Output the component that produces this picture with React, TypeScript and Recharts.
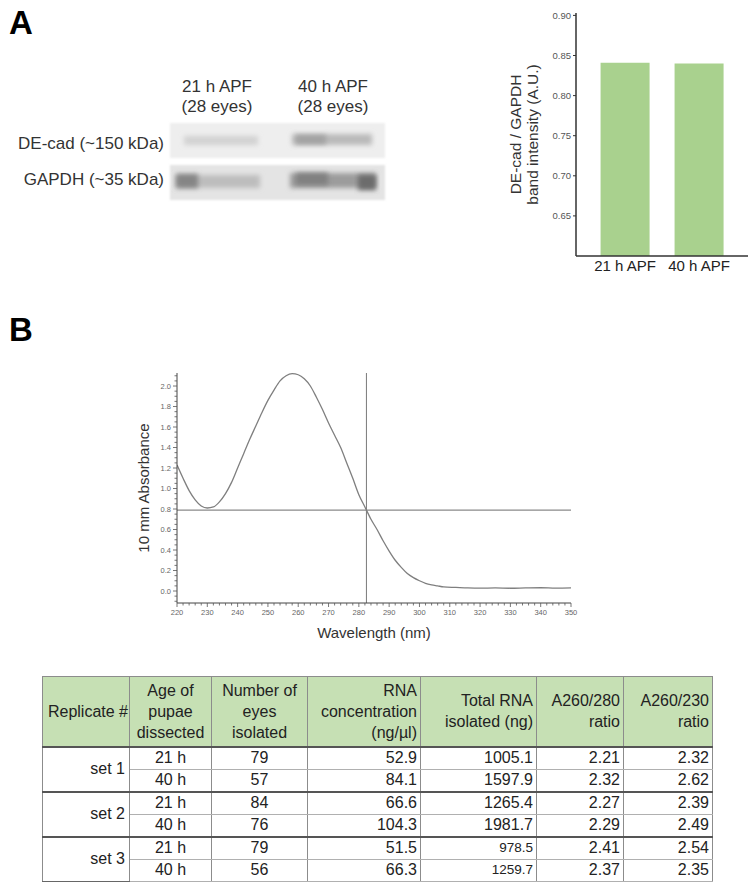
import React from 'react';
import { BarChart, Bar, XAxis, YAxis, LineChart, Line, ReferenceLine } from 'recharts';

// ---------- Panel A: western blot labels ----------
const blotLanes = ['21 h APF', '40 h APF'];
const blotLaneCounts = ['(28 eyes)', '(28 eyes)'];
const blotRows = ['DE-cad (~150 kDa)', 'GAPDH (~35 kDa)'];

// ---------- Panel A: bar chart ----------
const barCategories = ['21 h APF', '40 h APF'];
const barValues = [0.841, 0.84];
const barTicks = [0.65, 0.7, 0.75, 0.8, 0.85, 0.9];
const barYLabelLines = ['DE-cad / GAPDH', 'band intensity (A.U.)'];

// ---------- Panel B: absorbance spectrum ----------
const wavelengths = [
  220, 222, 224, 226, 228, 230, 232, 234, 236, 238, 240, 242, 244, 246, 248, 250,
  252, 254, 256, 258, 260, 262, 264, 266, 268, 270, 272, 274, 276, 278, 280, 282,
  284, 286, 288, 290, 292, 294, 296, 298, 300, 302, 304, 306, 308, 312, 316, 320,
  325, 330, 335, 340, 345, 350,
];
const absorbance = [
  1.23, 1.1, 0.98, 0.89, 0.83, 0.81, 0.82, 0.87, 0.95, 1.06, 1.2, 1.34, 1.48, 1.61, 1.74, 1.86,
  1.96, 2.05, 2.1, 2.12, 2.11, 2.07, 2.0, 1.89, 1.77, 1.64, 1.52, 1.4, 1.25, 1.1, 0.94, 0.82,
  0.7, 0.6, 0.49, 0.39, 0.3, 0.23, 0.17, 0.13, 0.1, 0.075, 0.06, 0.05, 0.04, 0.035, 0.03, 0.028,
  0.03, 0.027, 0.03, 0.032, 0.028, 0.03,
];
const cursorWavelength = 282.5;
const cursorAbsorbance = 0.79;
const absXMajorTicks = [220, 230, 240, 250, 260, 270, 280, 290, 300, 310, 320, 330, 340, 350];
const absYMajorTicks = [0, 0.2, 0.4, 0.6, 0.8, 1.0, 1.2, 1.4, 1.6, 1.8, 2.0];
const absXLabel = 'Wavelength (nm)';
const absYLabel = '10 mm Absorbance';

// ---------- Panel B: table ----------
const tableHeaders = [
  ['Replicate #'],
  ['Age of', 'pupae', 'dissected'],
  ['Number of', 'eyes', 'isolated'],
  ['RNA', 'concentration', '(ng/µl)'],
  ['Total RNA', 'isolated (ng)'],
  ['A260/280', 'ratio'],
  ['A260/230', 'ratio'],
];
const replicateSets = ['set 1', 'set 2', 'set 3'];
const pupaeAges = ['21 h', '40 h', '21 h', '40 h', '21 h', '40 h'];
const eyesIsolated = ['79', '57', '84', '76', '79', '56'];
const rnaConcentration = ['52.9', '84.1', '66.6', '104.3', '51.5', '66.3'];
const totalRna = ['1005.1', '1597.9', '1265.4', '1981.7', '978.5', '1259.7'];
const ratio260280 = ['2.21', '2.32', '2.27', '2.29', '2.41', '2.37'];
const ratio260230 = ['2.32', '2.62', '2.39', '2.49', '2.54', '2.35'];

const FONT = '"Liberation Sans", Arial, Helvetica, sans-serif';

const barData = barCategories.map((name, i) => ({ name, value: barValues[i] }));
const absData = wavelengths.map((wl, i) => ({ wl, a: absorbance[i] }));

const absXTicks: number[] = [];
for (let v = 220; v <= 350; v += 2) absXTicks.push(v);
const absYTicks: number[] = [];
for (let k = -2; k <= 42; k++) absYTicks.push(Math.round(k * 5) / 100);

const isMajorX = (v: number) => absXMajorTicks.includes(v);
const isMajorY = (v: number) => absYMajorTicks.some((m) => Math.abs(m - v) < 1e-6);

const AbsXTick = (props: any) => {
  const { x, y, payload } = props;
  const v = payload.value;
  const major = isMajorX(v);
  return (
    <g>
      <line x1={x} x2={x} y1={y} y2={y + (major ? 4 : 2.5)} stroke="#555" strokeWidth={0.8} />
      {major && (
        <text x={x} y={y + 12} textAnchor="middle" fontSize={7.5} fill="#666" fontFamily={FONT}>
          {v}
        </text>
      )}
    </g>
  );
};

const AbsYTick = (props: any) => {
  const { x, y, payload } = props;
  const v = payload.value;
  const major = isMajorY(v);
  return (
    <g>
      <line x1={x} x2={x - (major ? 4 : 2.5)} y1={y} y2={y} stroke="#555" strokeWidth={0.8} />
      {major && (
        <text x={x - 6} y={y + 2.6} textAnchor="end" fontSize={7.5} fill="#666" fontFamily={FONT}>
          {v.toFixed(1)}
        </text>
      )}
    </g>
  );
};

const AbsXLabel = (props: any) => {
  const vb = props.viewBox || { x: 47, y: 243, width: 394, height: 47 };
  return (
    <text x={vb.x + vb.width / 2} y={vb.y + 29} textAnchor="middle" dominantBaseline="central" fontSize={15} fill="#333" fontFamily={FONT}>
      {absXLabel}
    </text>
  );
};

const AbsYLabel = (props: any) => {
  const vb = props.viewBox || { x: 0, y: 13, width: 47, height: 230 };
  const cx = vb.x + 13;
  const cy = vb.y + vb.height / 2;
  return (
    <text x={cx} y={cy} textAnchor="middle" dominantBaseline="central" fontSize={15} fill="#333" fontFamily={FONT} transform={`rotate(-90, ${cx}, ${cy})`}>
      {absYLabel}
    </text>
  );
};

const BarYLabel = (props: any) => {
  const vb = props.viewBox || { x: 0, y: 13, width: 86, height: 243 };
  const cy = vb.y + vb.height / 2;
  const xs = [vb.x + 25, vb.x + 42];
  return (
    <g>
      {barYLabelLines.map((t, i) => (
        <text key={t} x={xs[i]} y={cy} textAnchor="middle" dominantBaseline="central" fontSize={15.5} fill="#333" fontFamily={FONT} transform={`rotate(-90, ${xs[i]}, ${cy})`}>
          {t}
        </text>
      ))}
    </g>
  );
};

const Blot = () => (
  <svg width={240} height={100} style={{ position: 'absolute', left: 160, top: 115 }}>
    <defs>
      <filter id="soft" x="-20%" y="-50%" width="140%" height="200%">
        <feGaussianBlur stdDeviation="1.2" />
      </filter>
      <filter id="band" x="-20%" y="-80%" width="140%" height="260%">
        <feGaussianBlur stdDeviation="2.6" />
      </filter>
    </defs>
    {/* DE-cad strip: y 123-158 -> local 8-43 */}
    <rect x={10} y={8} width={215} height={35} fill="#eeeeee" filter="url(#soft)" />
    <rect x={24} y={21} width={74} height={9} fill="#d2d2d2" filter="url(#band)" />
    <rect x={132} y={19} width={80} height={11} fill="#bababa" filter="url(#band)" />
    <rect x={136} y={20} width={30} height={9} fill="#a2a2a2" filter="url(#band)" />
    {/* GAPDH strip: y 165-200 -> local 50-85 */}
    <rect x={10} y={50} width={215} height={35} fill="#e4e4e4" filter="url(#soft)" />
    <rect x={16} y={60} width={84} height={13} fill="#bdbdbd" filter="url(#band)" />
    <rect x={16} y={59} width={22} height={14} fill="#858585" filter="url(#band)" />
    <rect x={130} y={58} width={86} height={15} fill="#9c9c9c" filter="url(#band)" />
    <rect x={136} y={58} width={32} height={12} fill="#808080" filter="url(#band)" />
    <rect x={198} y={60} width={18} height={15} fill="#6c6c6c" filter="url(#band)" />
  </svg>
);

const laneCenters = [217, 333];
const rowCenters = [144, 180];

const thBase: React.CSSProperties = {
  background: '#c6e0b4',
  border: '1px solid #8c8c8c',
  fontWeight: 'normal',
  padding: '0 3px',
  lineHeight: '21px',
  verticalAlign: 'middle',
  whiteSpace: 'nowrap',
};

const tdBase: React.CSSProperties = {
  borderLeft: '1px solid #8c8c8c',
  borderRight: '1px solid #8c8c8c',
  borderTop: '1px solid #b0b0b0',
  borderBottom: '1px solid #b0b0b0',
  padding: '0 3px',
  height: 21,
  lineHeight: '20px',
  whiteSpace: 'nowrap',
};

const headerAlign: ('center' | 'right')[] = ['right', 'center', 'center', 'right', 'right', 'right', 'right'];
const colWidths = [87, 82, 96, 113, 116, 87, 89];

const DataTable = () => (
  <table
    style={{
      position: 'absolute',
      left: 42,
      top: 676,
      width: 670,
      borderCollapse: 'collapse',
      fontFamily: FONT,
      fontSize: 16,
      color: '#222',
      tableLayout: 'fixed',
      border: '1px solid #666',
    }}
  >
    <colgroup>
      {colWidths.map((w, i) => (
        <col key={i} style={{ width: w }} />
      ))}
    </colgroup>
    <thead>
      <tr style={{ height: 70 }}>
        {tableHeaders.map((lines, i) => (
          <th
            key={i}
            style={{
              ...thBase,
              textAlign: headerAlign[i],
              borderBottom: '2px solid #555',
              ...(i === 0 ? { padding: '0 1px' } : {}),
            }}
          >
            {lines.map((l, j) => (
              <div key={j}>{l}</div>
            ))}
          </th>
        ))}
      </tr>
    </thead>
    <tbody>
      {pupaeAges.map((age, r) => {
        const first = r % 2 === 0;
        const topBorder = first && r > 0 ? '2px solid #555' : undefined;
        const cell = (extra: React.CSSProperties): React.CSSProperties => ({
          ...tdBase,
          ...(topBorder ? { borderTop: topBorder } : {}),
          ...extra,
        });
        return (
          <tr key={r}>
            {first && (
              <td rowSpan={2} style={cell({ textAlign: 'right', borderBottom: '1px solid #666', paddingRight: 4 })}>
                {replicateSets[r / 2]}
              </td>
            )}
            <td style={cell({ textAlign: 'center' })}>{age}</td>
            <td style={cell({ textAlign: 'center' })}>{eyesIsolated[r]}</td>
            <td style={cell({ textAlign: 'right' })}>{rnaConcentration[r]}</td>
            <td style={cell({ textAlign: 'right', fontSize: r >= 4 ? 13.5 : 16 })}>{totalRna[r]}</td>
            <td style={cell({ textAlign: 'right' })}>{ratio260280[r]}</td>
            <td style={cell({ textAlign: 'right' })}>{ratio260230[r]}</td>
          </tr>
        );
      })}
    </tbody>
  </table>
);

export default function App() {
  return (
    <div
      style={{
        position: 'absolute',
        left: 0,
        top: 0,
        width: 755,
        height: 888,
        background: '#ffffff',
        fontFamily: FONT,
        overflow: 'hidden',
      }}
    >
      {/* Panel letters */}
      <div style={{ position: 'absolute', left: 9, top: 6, fontSize: 33, fontWeight: 'bold', lineHeight: 1, color: '#000' }}>A</div>
      <div style={{ position: 'absolute', left: 9, top: 313, fontSize: 33, fontWeight: 'bold', lineHeight: 1, color: '#000' }}>B</div>

      {/* Western blot */}
      {blotLanes.map((lane, i) => (
        <div
          key={i}
          style={{
            position: 'absolute',
            left: laneCenters[i] - 60,
            width: 120,
            top: 77,
            textAlign: 'center',
            fontSize: 17,
            lineHeight: '20px',
            color: '#333',
          }}
        >
          <div>{lane}</div>
          <div>{blotLaneCounts[i]}</div>
        </div>
      ))}
      {blotRows.map((row, i) => (
        <div
          key={row}
          style={{
            position: 'absolute',
            right: 755 - 164,
            top: rowCenters[i] - 10,
            fontSize: 17,
            lineHeight: '20px',
            color: '#333',
            whiteSpace: 'nowrap',
          }}
        >
          {row}
        </div>
      ))}
      <Blot />

      {/* Bar chart */}
      <div style={{ position: 'absolute', left: 490, top: 0 }}>
        <BarChart width={265} height={290} data={barData} margin={{ top: 13, right: 7, bottom: 0, left: 0 }} barCategoryGap="17%">
          <XAxis
            dataKey="name"
            padding={{ left: 12, right: 12 }}
            tickLine={false}
            tickSize={0}
            tickMargin={4}
            axisLine={{ stroke: '#333', strokeWidth: 1.5 }}
            tick={{ fontSize: 15, fill: '#222', fontFamily: FONT }}
            height={34}
          />
          <YAxis
            width={86}
            type="number"
            domain={[0.6, 0.903]}
            allowDataOverflow
            ticks={barTicks}
            interval={0}
            tickFormatter={(v: number) => v.toFixed(2)}
            tick={{ fontSize: 9.5, fill: '#555', fontFamily: FONT }}
            tickSize={3}
            tickMargin={2}
            axisLine={{ stroke: '#333', strokeWidth: 1.5 }}
            tickLine={{ stroke: '#333' }}
            label={<BarYLabel />}
          />
          <Bar dataKey="value" fill="#a9d18e" isAnimationActive={false} />
        </BarChart>
      </div>

      {/* Absorbance spectrum */}
      <div style={{ position: 'absolute', left: 130, top: 360 }}>
        <LineChart width={480} height={290} data={absData} margin={{ top: 13, right: 39, bottom: 0, left: 0 }}>
          <XAxis
            type="number"
            dataKey="wl"
            domain={[220, 350]}
            allowDataOverflow
            ticks={absXTicks}
            interval={0}
            tick={<AbsXTick />}
            tickLine={false}
            tickSize={0}
            tickMargin={0}
            axisLine={{ stroke: '#444', strokeWidth: 1 }}
            height={47}
            label={<AbsXLabel />}
          />
          <YAxis
            type="number"
            domain={[-0.117, 2.127]}
            allowDataOverflow
            ticks={absYTicks}
            interval={0}
            tick={<AbsYTick />}
            tickLine={false}
            tickSize={0}
            tickMargin={0}
            axisLine={{ stroke: '#444', strokeWidth: 1 }}
            width={47}
            label={<AbsYLabel />}
          />
          <ReferenceLine y={cursorAbsorbance} stroke="#8a8a8a" strokeWidth={1.2} />
          <ReferenceLine x={cursorWavelength} stroke="#7a7a7a" strokeWidth={1} />
          <Line dataKey="a" type="monotone" stroke="#7f7f7f" strokeWidth={1.3} dot={false} isAnimationActive={false} />
        </LineChart>
      </div>

      <DataTable />
    </div>
  );
}
